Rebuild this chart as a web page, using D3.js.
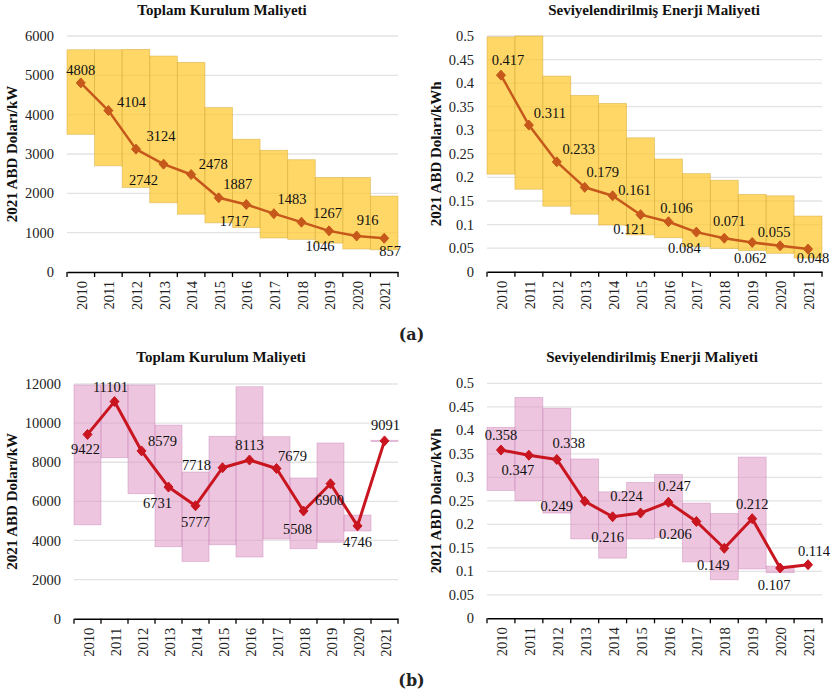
<!DOCTYPE html>
<html>
<head>
<meta charset="utf-8">
<script src="https://cdn.jsdelivr.net/npm/d3@7"></script>
<style>
  html, body { margin: 0; padding: 0; background: #fff; }
  svg { display: block; }
</style>
</head>
<body>
<svg id="chart" width="832" height="695"></svg>
<script>
// ---------- DATA ----------
const years = ["2010","2011","2012","2013","2014","2015","2016","2017","2018","2019","2020","2021"];

// (a) Toplam Kurulum Maliyeti
const installA     = [4808, 4104, 3124, 2742, 2478, 1887, 1717, 1483, 1267, 1046, 916, 857];
const installA_low = [3500, 2700, 2150, 1760, 1470, 1250, 1130, 865, 830, 735, 585, 565];
const installA_high= [5650, 5650, 5660, 5490, 5330, 4180, 3375, 3095, 2855, 2405, 2405, 1930];
const installA_ticks = [0, 1000, 2000, 3000, 4000, 5000, 6000];

// (a) Seviyelendirilmiş Enerji Maliyeti
const lcoeA     = [0.417, 0.311, 0.233, 0.179, 0.161, 0.121, 0.106, 0.084, 0.071, 0.062, 0.055, 0.048];
const lcoeA_low = [0.207, 0.175, 0.139, 0.122, 0.099, 0.078, 0.072, 0.053, 0.049, 0.045, 0.039, 0.029];
const lcoeA_high= [0.498, 0.500, 0.415, 0.374, 0.357, 0.284, 0.239, 0.208, 0.194, 0.164, 0.161, 0.118];
const lcoeA_ticks = [0, 0.05, 0.1, 0.15, 0.2, 0.25, 0.3, 0.35, 0.4, 0.45, 0.5];

// (b) Toplam Kurulum Maliyeti
const installB     = [9422, 11101, 8579, 6731, 5777, 7718, 8113, 7679, 5508, 6900, 4746, 9091];
const installB_low = [4800, 8230, 6390, 3680, 2930, 3780, 3155, 4075, 3580, 3905, 4485, 9060];
const installB_high= [11950, 11950, 11950, 9900, 7500, 9325, 11860, 9305, 7195, 8985, 5300, 9120];
const installB_ticks = [0, 2000, 4000, 6000, 8000, 10000, 12000];

// (b) Seviyelendirilmiş Enerji Maliyeti
const lcoeB     = [0.358, 0.347, 0.338, 0.249, 0.216, 0.224, 0.247, 0.206, 0.149, 0.212, 0.107, 0.114];
const lcoeB_low = [0.272, 0.250, 0.224, 0.169, 0.128, 0.169, 0.172, 0.120, 0.082, 0.105, 0.097, null];
const lcoeB_high= [0.406, 0.470, 0.447, 0.339, 0.269, 0.289, 0.306, 0.245, 0.223, 0.343, 0.111, null];
const lcoeB_ticks = [0, 0.05, 0.1, 0.15, 0.2, 0.25, 0.3, 0.35, 0.4, 0.45, 0.5];

const titleInstall = "Toplam Kurulum Maliyeti";
const titleLcoe = "Seviyelendirilmiş Enerji Maliyeti";
const unitInstall = "2021 ABD Doları/kW";
const unitLcoe = "2021 ABD Doları/kWh";

// ---------- LABEL PLACEMENT (offsets of value labels from points, px) ----------
const offInstallA = [[0,-13],[23,-9],[25,-13],[-20,16],[22,-11],[19,-14],[-12,16],[18,-15],[26,-9],[-9,15],[11,-16],[6,13]];
const offLcoeA    = [[7,-15],[21,-12],[22,-13],[18,-15],[22,-6],[-11,14],[8,-14],[-12,16],[5,-17],[-2,15],[-6,-14],[5,9]];
const offInstallB = [[-2,15],[-4,-15],[21,-10],[-11,16],[0,16],[-26,-3],[0,-15],[16,-13],[-6,18],[-1,16],[0,16],[1,-16]];
const offLcoeB    = [[0,-15],[-11,15],[12,-17],[-28,5],[-5,20],[-14,-17],[6,-16],[-21,12],[-11,17],[0,-15],[-6,17],[6,-14]];

// ---------- DRAW ----------
const SERIF = "'Liberation Serif', 'Times New Roman', Times, serif";
const svg = d3.select("#chart");

function panel(cfg) {
  const g = svg.append("g");
  const x = d3.scaleBand().domain(years).range([cfg.x0, cfg.x1]).padding(0);
  const y = d3.scaleLinear().domain([0, cfg.max]).range([cfg.yb, cfg.yt]);

  // gridlines
  g.selectAll("line.grid").data(cfg.ticks.filter(t => t > 0)).join("line")
    .attr("x1", cfg.x0).attr("x2", cfg.x1)
    .attr("y1", d => y(d)).attr("y2", d => y(d))
    .attr("stroke", "#e3e3e3").attr("stroke-width", 1.3);

  // range boxes
  const boxes = years.map((yr, i) => ({yr, lo: cfg.low[i], hi: cfg.high[i]})).filter(d => d.lo != null);
  g.selectAll("rect.box").data(boxes).join("rect")
    .attr("x", d => x(d.yr)).attr("width", x.bandwidth())
    .attr("y", d => y(d.hi)).attr("height", d => Math.max(1, y(d.lo) - y(d.hi)))
    .attr("fill", cfg.boxFill).attr("stroke", cfg.boxStroke).attr("stroke-width", 0.8);

  // y tick labels
  g.selectAll("text.yt").data(cfg.ticks).join("text")
    .attr("x", cfg.x0 - 13).attr("y", d => y(d)).attr("dy", "0.35em")
    .attr("text-anchor", "end").attr("font-size", 14.5).attr("fill", "#222")
    .style("font-family", SERIF)
    .text(d => cfg.fmt(d));

  // x axis
  const ax = d3.axisBottom(x).tickSize(0).tickFormat("");
  const axg = g.append("g").attr("transform", `translate(0,${cfg.yb})`).call(ax);
  axg.select(".domain").attr("stroke", "#000").attr("stroke-width", 1.5);
  const bounds = years.map(yr => x(yr)).concat([cfg.x1]);
  g.selectAll("line.bt").data(bounds).join("line")
    .attr("x1", d => d).attr("x2", d => d)
    .attr("y1", cfg.yb).attr("y2", cfg.yb + 5)
    .attr("stroke", "#000").attr("stroke-width", 1.3);
  g.selectAll("text.xl").data(years).join("text")
    .attr("transform", d => `translate(${x(d) + x.bandwidth()/2 + 1},${cfg.yb + 9}) rotate(-90)`)
    .attr("text-anchor", "end").attr("dy", "0.35em")
    .attr("font-size", 14.5).attr("fill", "#222")
    .style("font-family", SERIF)
    .text(d => d);

  // line
  const pts = years.map((yr, i) => ({yr, v: cfg.values[i], i}));
  const line = d3.line().x(d => x(d.yr) + x.bandwidth()/2).y(d => y(d.v));
  g.append("path").datum(pts).attr("d", line)
    .attr("fill", "none").attr("stroke", cfg.lineColor).attr("stroke-width", cfg.lineWidth)
    .attr("stroke-linejoin", "round");
  g.selectAll("path.mk").data(pts).join("path")
    .attr("d", "M0,-5L4.5,0L0,5L-4.5,0Z")
    .attr("transform", d => `translate(${x(d.yr) + x.bandwidth()/2},${y(d.v)})`)
    .attr("fill", cfg.lineColor).attr("stroke", cfg.lineColor).attr("stroke-width", 1).attr("stroke-linejoin", "round");
  g.selectAll("text.vl").data(pts).join("text")
    .attr("x", d => x(d.yr) + x.bandwidth()/2 + cfg.offsets[d.i][0])
    .attr("y", d => y(d.v) + cfg.offsets[d.i][1])
    .attr("dy", "0.35em").attr("text-anchor", "middle")
    .attr("font-size", 14.5).attr("fill", "#111")
    .style("font-family", SERIF)
    .text(d => cfg.labelFmt(d.v));

  // title
  g.append("text").attr("x", cfg.titleX).attr("y", cfg.titleY).attr("dy", "0.35em")
    .attr("text-anchor", "middle").attr("font-weight", "bold").attr("font-size", 15)
    .style("font-family", SERIF)
    .attr("fill", "#111").text(cfg.title);
  // y axis title
  g.append("text")
    .attr("transform", `translate(${cfg.unitX},${(cfg.yt + cfg.yb)/2}) rotate(-90)`)
    .attr("text-anchor", "middle").attr("dy", "0.35em")
    .attr("font-weight", "bold").attr("font-size", 15).attr("fill", "#111")
    .style("font-family", SERIF)
    .text(cfg.unit);
}

const yellowFill = "rgba(253,199,44,0.72)", yellowStroke = "rgba(215,170,60,0.6)";
const pinkFill = "rgba(222,150,195,0.55)", pinkStroke = "rgba(200,130,185,0.5)";
const brown = "#C5581A", red = "#C8151F";

panel({x0: 67, x1: 398, yt: 36, yb: 272, max: 6000, ticks: installA_ticks,
  values: installA, low: installA_low, high: installA_high, offsets: offInstallA,
  fmt: d => d3.format("d")(d), labelFmt: d => d3.format("d")(d),
  boxFill: yellowFill, boxStroke: yellowStroke, lineColor: brown, lineWidth: 2.5,
  title: titleInstall, titleX: 222, titleY: 10, unit: unitInstall, unitX: 12});

panel({x0: 487, x1: 822, yt: 36, yb: 271.7, max: 0.5, ticks: lcoeA_ticks,
  values: lcoeA, low: lcoeA_low, high: lcoeA_high, offsets: offLcoeA,
  fmt: d => String(+d.toFixed(2)), labelFmt: d => d3.format(".3f")(d),
  boxFill: yellowFill, boxStroke: yellowStroke, lineColor: brown, lineWidth: 2.5,
  title: titleLcoe, titleX: 654, titleY: 10, unit: unitLcoe, unitX: 436});

panel({x0: 74, x1: 398, yt: 384, yb: 618.7, max: 12000, ticks: installB_ticks,
  values: installB, low: installB_low, high: installB_high, offsets: offInstallB,
  fmt: d => d3.format("d")(d), labelFmt: d => d3.format("d")(d),
  boxFill: pinkFill, boxStroke: pinkStroke, lineColor: red, lineWidth: 3,
  title: titleInstall, titleX: 221, titleY: 357, unit: unitInstall, unitX: 12});

panel({x0: 487, x1: 822, yt: 383.3, yb: 618.3, max: 0.5, ticks: lcoeB_ticks,
  values: lcoeB, low: lcoeB_low, high: lcoeB_high, offsets: offLcoeB,
  fmt: d => String(+d.toFixed(2)), labelFmt: d => d3.format(".3f")(d),
  boxFill: pinkFill, boxStroke: pinkStroke, lineColor: red, lineWidth: 3,
  title: titleLcoe, titleX: 652, titleY: 357, unit: unitLcoe, unitX: 436});

// panel tags
svg.append("text").attr("x", 411.5).attr("y", 334).attr("dy", "0.35em")
  .attr("text-anchor", "middle").attr("font-weight", "bold").attr("font-size", 16)
  .style("font-family", "'DejaVu Serif', serif").attr("fill", "#222").text("(a)");
svg.append("text").attr("x", 411.5).attr("y", 680.5).attr("dy", "0.35em")
  .attr("text-anchor", "middle").attr("font-weight", "bold").attr("font-size", 16)
  .style("font-family", "'DejaVu Serif', serif").attr("fill", "#222").text("(b)");
</script>
</body>
</html>
